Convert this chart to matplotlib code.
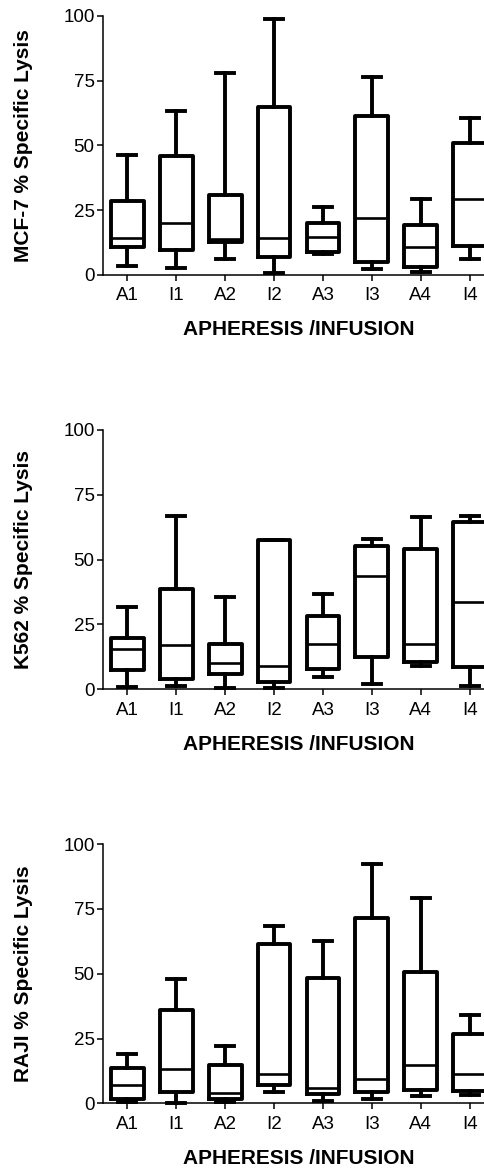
import matplotlib
matplotlib.use('Agg')
import matplotlib.pyplot as plt

plt.rcParams['font.family'] = ['Liberation Sans', 'DejaVu Sans']

groups = ['A1', 'I1', 'A2', 'I2', 'A3', 'I3', 'A4', 'I4']

# whisker low, Q1, median, Q3, whisker high for each group
mcf7_lo  = [3.5, 2.8, 6.3, 0.9, 8.1, 2.3, 1.0, 6.3]
mcf7_q1  = [10.7, 9.8, 12.6, 7.1, 8.9, 5.1, 3.2, 11.3]
mcf7_med = [14.4, 20.0, 14.0, 14.4, 14.5, 21.8, 10.9, 29.4]
mcf7_q3  = [28.6, 45.7, 30.8, 64.8, 19.9, 61.2, 19.4, 50.8]
mcf7_hi  = [46.1, 63.4, 77.8, 98.6, 26.2, 76.5, 29.3, 60.6]

k562_lo  = [0.9, 1.4, 0.3, 0.3, 4.7, 2.1, 8.8, 1.2]
k562_q1  = [7.6, 4.1, 5.9, 2.7, 7.7, 12.6, 10.4, 8.7]
k562_med = [15.5, 17.2, 10.1, 9.1, 17.3, 43.8, 17.6, 33.5]
k562_q3  = [19.7, 38.6, 17.6, 57.6, 28.2, 55.1, 54.1, 64.6]
k562_hi  = [31.9, 66.9, 35.6, 57.7, 36.8, 58.1, 66.3, 66.7]

raji_lo  = [0.5, 0.2, 0.5, 4.2, 0.9, 1.8, 3.0, 3.2]
raji_q1  = [1.8, 4.4, 1.8, 7.1, 3.5, 4.5, 5.1, 4.9]
raji_med = [6.9, 13.3, 4.1, 11.2, 6.0, 9.4, 14.9, 11.2]
raji_q3  = [13.8, 35.9, 14.7, 61.5, 48.3, 71.6, 50.7, 26.8]
raji_hi  = [19.0, 48.0, 22.1, 68.5, 62.8, 92.5, 79.3, 34.1]

panels = [
    ('MCF-7 % Specific Lysis', mcf7_lo, mcf7_q1, mcf7_med, mcf7_q3, mcf7_hi),
    ('K562 % Specific Lysis', k562_lo, k562_q1, k562_med, k562_q3, k562_hi),
    ('RAJI % Specific Lysis', raji_lo, raji_q1, raji_med, raji_q3, raji_hi),
]
bottoms = [0.7652, 0.4114, 0.0578]

fig = plt.figure(figsize=(4.84, 11.71), dpi=100)

for (ylab, lo, q1, med, q3, hi), b in zip(panels, bottoms):
    ax = fig.add_axes([0.2128, b, 0.808, 0.2214])
    stats = []
    for i in range(len(groups)):
        stats.append({'whislo': lo[i], 'q1': q1[i], 'med': med[i],
                      'q3': q3[i], 'whishi': hi[i], 'fliers': []})
    ax.bxp(stats, positions=range(len(groups)), widths=0.67, capwidths=0.37,
           showfliers=False,
           boxprops=dict(color='black', linewidth=2.8),
           whiskerprops=dict(color='black', linewidth=2.8),
           capprops=dict(color='black', linewidth=2.8),
           medianprops=dict(color='black', linewidth=1.9))
    for art in ax.get_children():
        try:
            art.set_clip_on(False)
        except Exception:
            pass
    ax.set_xlim(-0.5, 7.5)
    ax.set_ylim(0, 100)
    ax.set_yticks([0, 25, 50, 75, 100])
    ax.set_xticks(range(len(groups)))
    ax.set_xticklabels(groups)
    ax.spines['top'].set_visible(False)
    ax.spines['right'].set_visible(False)
    ax.spines['left'].set_linewidth(1.1)
    ax.spines['bottom'].set_linewidth(1.1)
    ax.tick_params(axis='y', direction='out', length=4, width=1.1, labelsize=13.5, pad=2)
    ax.tick_params(axis='x', direction='out', length=4, width=1.1, labelsize=13.5, pad=5)
    ax.set_ylabel(ylab, fontsize=15, fontweight='bold')
    ax.yaxis.set_label_coords(-0.18, 0.5)
    ax.set_xlabel('APHERESIS /INFUSION', fontsize=15, fontweight='bold', va='top')
    ax.xaxis.set_label_coords(0.5, -0.175)

fig.savefig('out.png', dpi=100)
